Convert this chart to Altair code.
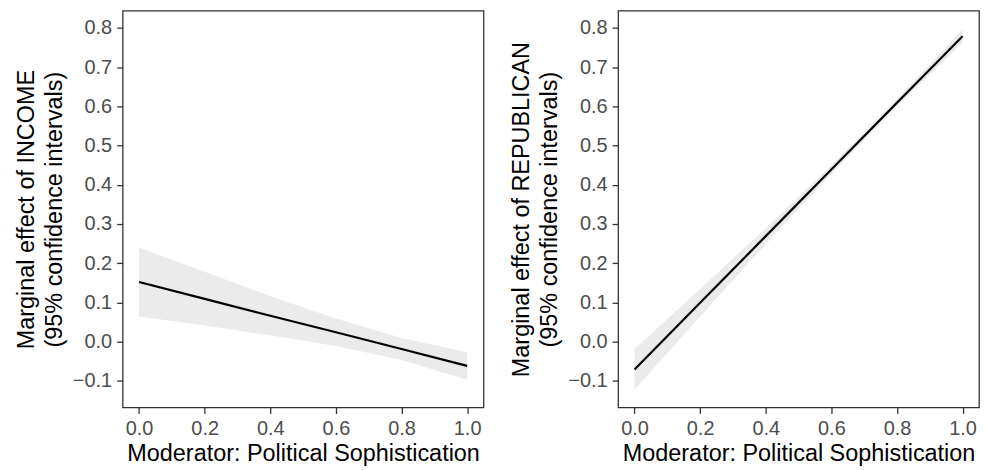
import altair as alt
import pandas as pd

x_vals = [0.0, 0.2, 0.4, 0.6, 0.8, 1.0]

income_est = [0.152, 0.109, 0.066, 0.024, -0.019, -0.062]
income_hi = [0.240, 0.178, 0.116, 0.059, 0.009, -0.027]
income_lo = [0.064, 0.041, 0.016, -0.011, -0.047, -0.097]

rep_est = [-0.071, 0.099, 0.269, 0.439, 0.609, 0.779]
rep_hi = [-0.019, 0.134, 0.289, 0.450, 0.619, 0.796]
rep_lo = [-0.123, 0.064, 0.249, 0.428, 0.599, 0.762]

x_ticks = [0.0, 0.2, 0.4, 0.6, 0.8, 1.0]
y_ticks = [-0.1, 0.0, 0.1, 0.2, 0.3, 0.4, 0.5, 0.6, 0.7, 0.8]

x_title = "Moderator: Political Sophistication"
y_title_income = ["Marginal effect of INCOME", "(95% confidence intervals)"]
y_title_rep = ["Marginal effect of REPUBLICAN", "(95% confidence intervals)"]

FONT = "Liberation Sans"
W, H = 362, 398


def panel(est, lo, hi, ytitle):
    df = pd.DataFrame({"x": x_vals, "est": est, "lo": lo, "hi": hi})
    xenc = alt.X("x:Q", scale=alt.Scale(domain=[-0.05, 1.05], nice=False, zero=False),
                 axis=alt.Axis(values=x_ticks, format=".1f", title=x_title))
    band = alt.Chart(df).mark_area(color="#ebebeb", opacity=1).encode(
        x=xenc,
        y=alt.Y("lo:Q", scale=alt.Scale(domain=[-0.168, 0.844], nice=False, zero=False),
                axis=alt.Axis(values=y_ticks, format=".1f", title=ytitle)),
        y2="hi:Q",
    )
    line = alt.Chart(df).mark_line(color="black", strokeWidth=2.2).encode(
        x="x:Q",
        y="est:Q",
    )
    return alt.layer(band, line).properties(width=W, height=H)


chart = alt.hconcat(
    panel(income_est, income_lo, income_hi, y_title_income),
    panel(rep_est, rep_lo, rep_hi, y_title_rep),
    spacing=24,
).properties(
    padding={"left": 5, "top": 1, "right": 0, "bottom": 0}
).configure_view(
    stroke="#333333", strokeWidth=1.3
).configure_axis(
    domain=False,
    grid=False,
    ticks=True,
    tickColor="#333333",
    tickSize=6,
    tickWidth=1.3,
    labelFont=FONT,
    labelFontSize=20,
    labelColor="#4d4d4d",
    labelPadding=5,
    titleFont=FONT,
    titleFontSize=23.5,
    titleFontWeight="normal",
    titleColor="black",
    titleLineHeight=28,
).configure_axisY(
    titlePadding=6,
).configure_axisX(
    titlePadding=3,
)

chart.save("out.html", embed_options={"renderer": "svg", "actions": False})
